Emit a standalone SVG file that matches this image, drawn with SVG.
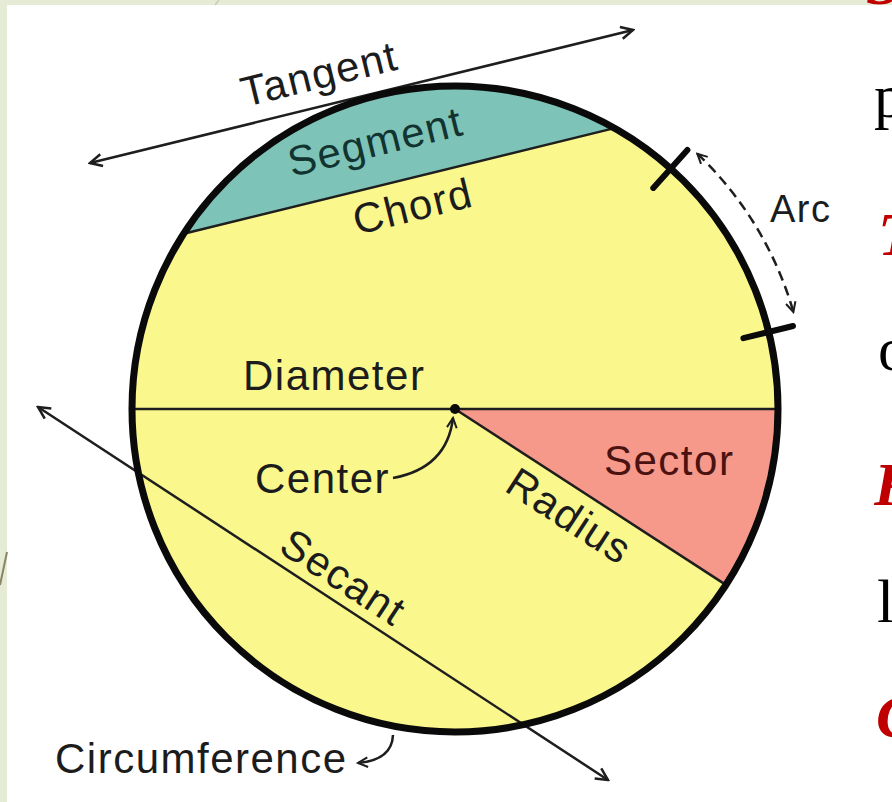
<svg xmlns="http://www.w3.org/2000/svg" width="892" height="802" viewBox="0 0 892 802">
<style>
.lbl{font-family:"Liberation Sans",Arial,sans-serif;font-size:42px;letter-spacing:1.5px;fill:#1c1c1c}
.ln{stroke:#1e1e1e;stroke-width:2.5;fill:none}
.slide{font-family:"Liberation Serif","Times New Roman",serif;font-size:62px}
.red{fill:#c00000;font-weight:bold;font-style:italic}
.blk{fill:#000}
</style>
<defs>
<marker id="ah" viewBox="0 0 16 16" refX="14" refY="8" markerWidth="16" markerHeight="16" markerUnits="userSpaceOnUse" orient="auto-start-reverse">
<path d="M2,2 L14,8 L2,14" fill="none" stroke="#1e1e1e" stroke-width="2.5" stroke-dasharray="none"/>
</marker>
<marker id="ahs" viewBox="0 0 16 16" refX="14" refY="8" markerWidth="13" markerHeight="13" markerUnits="userSpaceOnUse" orient="auto-start-reverse">
<path d="M2,2 L14,8 L2,14" fill="none" stroke="#1e1e1e" stroke-width="2.5" stroke-dasharray="none"/>
</marker>
</defs>
<rect x="0" y="0" width="892" height="802" fill="#e6ebd6"/>
<rect x="7" y="5" width="885" height="797" fill="#ffffff"/>
<line x1="0" y1="585" x2="7" y2="552" stroke="#8c8466" stroke-width="2"/>
<line x1="219" y1="0" x2="215" y2="5" stroke="#c9ccb8" stroke-width="1.5"/>

<g id="circle">
<circle cx="455" cy="409" r="323" fill="#faf88c"/>
</g>
<g id="segment">
<path d="M183.7,233.7 A323,323 0 0 1 614.5,128.1 Z" fill="#7ec3b7"/>
</g>
<g id="sector">
<path d="M455,409 L778,409 A323,323 0 0 1 725.9,584.9 Z" fill="#f6998a"/>
</g>

<g id="connectors">
<line class="ln" x1="183.7" y1="233.7" x2="614.5" y2="128.1" stroke-width="2"/>
<line class="ln" x1="133" y1="409" x2="778" y2="409"/>
<line class="ln" x1="455" y1="409" x2="725.9" y2="584.9"/>
<line class="ln" x1="90" y1="163" x2="633" y2="30" marker-start="url(#ah)" marker-end="url(#ah)"/>
<line class="ln" x1="38" y1="407" x2="608" y2="780" marker-start="url(#ah)" marker-end="url(#ah)"/>
<path class="ln" d="M697.3,153.7 A352,352 0 0 1 793.4,312" stroke-width="3" stroke-dasharray="10,6" marker-start="url(#ahs)" marker-end="url(#ahs)"/>
<path class="ln" d="M393,478 Q447,468 453,418" marker-end="url(#ahs)"/>
<path class="ln" d="M393,735 Q392,760 358,763" marker-end="url(#ahs)"/>
</g>

<g id="outline">
<circle cx="455" cy="409" r="323" fill="none" stroke="#0a0a0a" stroke-width="7"/>
<line x1="653.3" y1="187.9" x2="687.4" y2="150" stroke="#0a0a0a" stroke-width="6" stroke-linecap="round"/>
<line x1="743.4" y1="338.2" x2="793" y2="326" stroke="#0a0a0a" stroke-width="6" stroke-linecap="round"/>
<circle cx="455" cy="409" r="5" fill="#0a0a0a"/>
</g>

<g id="labels">
<text class="lbl" transform="translate(245,107) rotate(-13.8)">Tangent</text>
<text class="lbl" transform="translate(292,177) rotate(-13.8)" style="fill:#123430">Segment</text>
<text class="lbl" transform="translate(357,235) rotate(-13.8)">Chord</text>
<text class="lbl" x="770" y="222" style="font-size:38px">Arc</text>
<text class="lbl" x="243" y="390">Diameter</text>
<text class="lbl" x="255" y="493">Center</text>
<text class="lbl" x="604" y="475" style="fill:#4a1210">Sector</text>
<text class="lbl" transform="translate(503,490) rotate(33)">Radius</text>
<text class="lbl" transform="translate(277,551) rotate(33.2)">Secant</text>
<text class="lbl" x="55" y="773">Circumference</text>
</g>

<g id="slide-text">
<text class="slide red" x="866" y="4">S</text>
<text class="slide blk" x="874" y="117">p</text>
<text class="slide red" x="878" y="255">T</text>
<text class="slide blk" x="878" y="370">o</text>
<text class="slide red" x="874" y="505">R</text>
<text class="slide blk" x="877" y="622">l</text>
<text class="slide red" x="876" y="737">C</text>
</g>
</svg>
